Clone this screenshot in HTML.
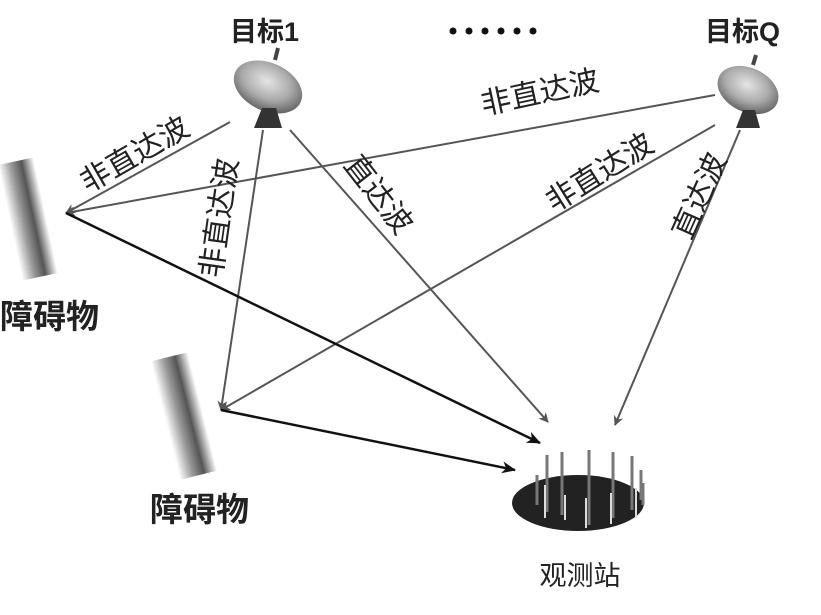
<!DOCTYPE html>
<html><head><meta charset="utf-8"><style>
html,body{margin:0;padding:0;background:#fff;}
svg{display:block;}
text{font-family:"Liberation Sans","Noto Sans CJK SC",sans-serif;}
</style></head><body>
<svg width="821" height="615" viewBox="0 0 821 615" xmlns="http://www.w3.org/2000/svg">
<defs>
<linearGradient id="bar" x1="0" x2="1" y1="0" y2="0">
<stop offset="0" stop-color="#fff"/><stop offset="0.35" stop-color="#999"/><stop offset="0.65" stop-color="#555"/><stop offset="1" stop-color="#fff"/>
</linearGradient>
<radialGradient id="dish" cx="0.45" cy="0.4" r="0.6">
<stop offset="0" stop-color="#e5e5e5"/><stop offset="0.6" stop-color="#aaa"/><stop offset="1" stop-color="#666"/>
</radialGradient>
<marker id="ag" markerWidth="10" markerHeight="10" refX="9" refY="5" orient="auto" markerUnits="userSpaceOnUse"><path d="M0,0 L10,5 L0,10 L3,5z" fill="#555"/></marker>
<marker id="ab" markerWidth="14" markerHeight="12" refX="13" refY="6" orient="auto" markerUnits="userSpaceOnUse"><path d="M0,0 L14,6 L0,12 L4,6z" fill="#111"/></marker>
</defs>
<rect x="10" y="160" width="36" height="118" fill="url(#bar)" transform="rotate(-12 28 219)"/>
<rect x="165" y="355" width="38" height="122" fill="url(#bar)" transform="rotate(-14 184 416)"/>
<ellipse cx="578" cy="503" rx="66" ry="28" fill="#222"/>
<g stroke="#777" stroke-width="3">
<line x1="537" y1="475" x2="537" y2="505"/><line x1="547" y1="455" x2="547" y2="512"/><line x1="562" y1="452" x2="562" y2="515"/>
<line x1="589" y1="450" x2="589" y2="525"/><line x1="613" y1="452" x2="613" y2="518"/><line x1="632" y1="456" x2="632" y2="510"/>
<line x1="641" y1="470" x2="641" y2="500"/><line x1="643" y1="483" x2="643" y2="505"/></g>
<g stroke="#ddd" stroke-width="2"><line x1="545" y1="485" x2="545" y2="518"/><line x1="565" y1="495" x2="565" y2="520"/><line x1="586" y1="498" x2="586" y2="528"/><line x1="611" y1="493" x2="611" y2="524"/><line x1="636" y1="488" x2="636" y2="518"/></g>
<g>
<line x1="275" y1="60" x2="278" y2="48" stroke="#444" stroke-width="4"/>
<ellipse cx="268" cy="87" rx="36" ry="24" fill="url(#dish)" transform="rotate(25 268 87)"/>
<path d="M262,108 L276,108 L282,128 L254,128z" fill="#333"/>
</g>
<g>
<line x1="753" y1="65" x2="756" y2="55" stroke="#444" stroke-width="4"/>
<ellipse cx="748" cy="90" rx="32" ry="22" fill="url(#dish)" transform="rotate(25 748 90)"/>
<path d="M743,110 L755,110 L760,128 L736,128z" fill="#333"/>
</g>
<g stroke="#555" stroke-width="2" fill="none" marker-end="url(#ag)">
<line x1="230" y1="122" x2="66" y2="213"/>
<line x1="263" y1="130" x2="221" y2="410"/>
<line x1="290" y1="130" x2="548" y2="422"/>
<line x1="715" y1="95" x2="66" y2="213"/>
<line x1="715" y1="125" x2="221" y2="410"/>
<line x1="740" y1="130" x2="615" y2="425"/>
</g>
<g stroke="#111" stroke-width="2.5" fill="none" marker-end="url(#ab)">
<line x1="66" y1="213" x2="540" y2="443"/>
<line x1="221" y1="410" x2="515" y2="470"/>
</g>
<g font-weight="bold" fill="#222">
<text x="230" y="41" font-size="27">目标1</text>
<text x="705" y="41" font-size="27">目标Q</text>
<text x="0" y="328" font-size="33">障碍物</text>
<text x="150" y="521" font-size="33">障碍物</text>
</g>
<text x="580" y="585" font-size="27" fill="#222" text-anchor="middle">观测站</text>
<g fill="#111"><circle cx="453" cy="31" r="3.5"/><circle cx="469" cy="31" r="3.5"/><circle cx="485" cy="31" r="3.5"/><circle cx="501" cy="31" r="3.5"/><circle cx="517" cy="31" r="3.5"/><circle cx="533" cy="31" r="3.5"/></g>
<g font-size="30" fill="#222" text-anchor="middle" dominant-baseline="central">
<text transform="translate(135,155) rotate(-30)">非直达波</text>
<text transform="translate(220,218) rotate(-82)">非直达波</text>
<text transform="translate(378,195) rotate(52)">直达波</text>
<text transform="translate(540,93) rotate(-12)">非直达波</text>
<text transform="translate(600,173) rotate(-32)">非直达波</text>
<text transform="translate(700,196) rotate(-66)">直达波</text>
</g>
</svg>
</body></html>
